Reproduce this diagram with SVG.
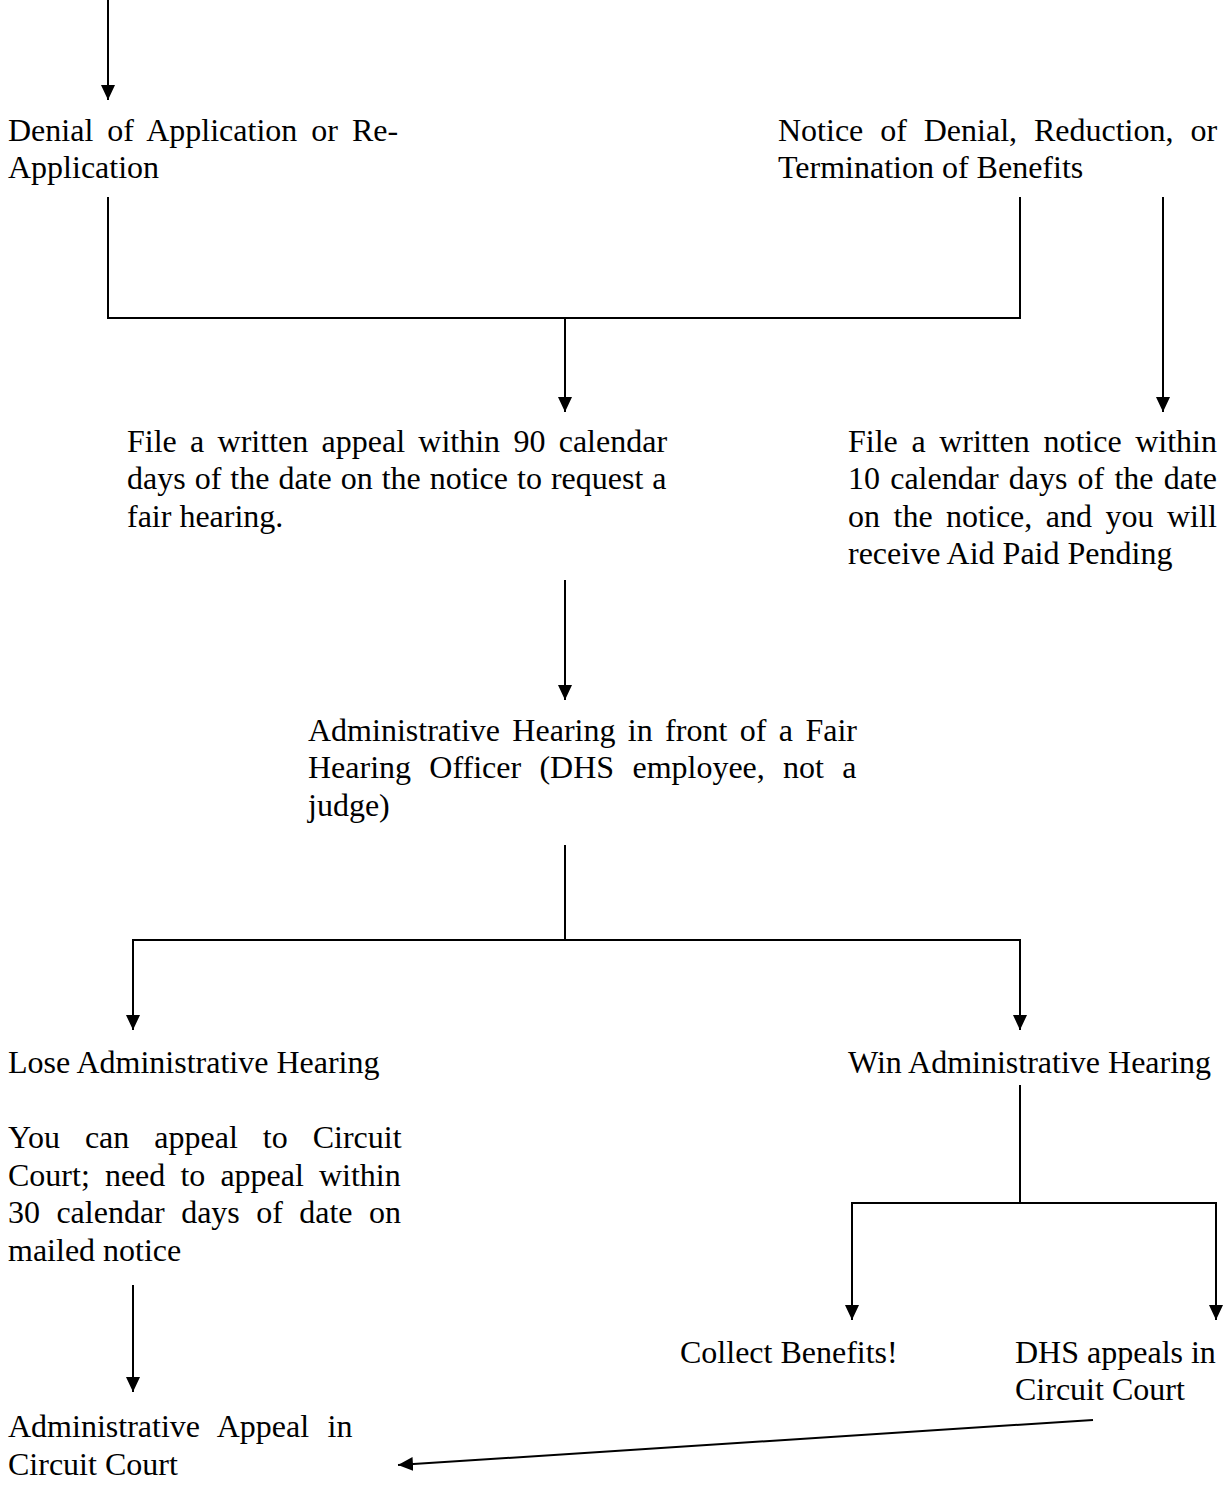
<svg xmlns="http://www.w3.org/2000/svg" width="1231" height="1501" viewBox="0 0 1231 1501">
<style>
text{font-family:"Liberation Serif","Times New Roman",serif;font-size:32px;fill:#000}
.c{fill:none;stroke:#000;stroke-width:2}
</style>
<defs>
<marker id="ah" markerUnits="userSpaceOnUse" markerWidth="16" markerHeight="14" refX="15" refY="7" orient="auto">
<path d="M0,0 L15,7 L0,14 z" fill="#000"/>
</marker>
</defs>
<rect width="1231" height="1501" fill="#fff"/>
<g id="connectors">
<path class="c" d="M108,0 V100" marker-end="url(#ah)"/>
<path class="c" d="M108,197 V318 H1020 V197"/>
<path class="c" d="M565,318 V412" marker-end="url(#ah)"/>
<path class="c" d="M1163,197 V412" marker-end="url(#ah)"/>
<path class="c" d="M565,580 V700" marker-end="url(#ah)"/>
<path class="c" d="M565,845 V940"/>
<path class="c" d="M133,1030 V940 H1020 V1030" marker-end="url(#ah)"/>
<path class="c" d="M133,940 V1030" marker-end="url(#ah)"/>
<path class="c" d="M1020,1085 V1203"/>
<path class="c" d="M852,1320 V1203 H1216 V1320" marker-end="url(#ah)"/>
<path class="c" d="M852,1203 V1320" marker-end="url(#ah)"/>
<path class="c" d="M133,1285 V1392" marker-end="url(#ah)"/>
<path class="c" d="M1093,1420 L398,1465" marker-end="url(#ah)"/>
</g>
<g id="denial-application">
<text x="8" y="141" word-spacing="6">Denial of Application or Re-</text>
<text x="8" y="178">Application</text>
</g>
<g id="notice-denial">
<text x="778" y="141" word-spacing="8.9">Notice of Denial, Reduction, or</text>
<text x="778" y="178">Termination of Benefits</text>
</g>
<g id="file-appeal">
<text x="127" y="452" word-spacing="5.3">File a written appeal within 90 calendar</text>
<text x="127" y="489" word-spacing="1">days of the date on the notice to request a</text>
<text x="127" y="527">fair hearing.</text>
</g>
<g id="file-notice">
<text x="848" y="452" word-spacing="5.6">File a written notice within</text>
<text x="848" y="489" word-spacing="2.2">10 calendar days of the date</text>
<text x="848" y="527" word-spacing="5.5">on the notice, and you will</text>
<text x="848" y="564">receive Aid Paid Pending</text>
</g>
<g id="admin-hearing">
<text x="308" y="741" word-spacing="4.4">Administrative Hearing in front of a Fair</text>
<text x="308" y="778" word-spacing="10.3">Hearing Officer (DHS employee, not a</text>
<text x="308" y="816">judge)</text>
</g>
<g id="lose-hearing">
<text x="8" y="1073">Lose Administrative Hearing</text>
<text x="8" y="1148" word-spacing="17">You can appeal to Circuit</text>
<text x="8" y="1186" word-spacing="7.1">Court; need to appeal within</text>
<text x="8" y="1223" word-spacing="8.4">30 calendar days of date on</text>
<text x="8" y="1261">mailed notice</text>
</g>
<g id="win-hearing">
<text x="848" y="1073">Win Administrative Hearing</text>
</g>
<g id="collect-benefits">
<text x="680" y="1363">Collect Benefits!</text>
</g>
<g id="dhs-appeals">
<text x="1015" y="1363">DHS appeals in</text>
<text x="1015" y="1400">Circuit Court</text>
</g>
<g id="admin-appeal">
<text x="8" y="1437" word-spacing="10.5">Administrative Appeal in</text>
<text x="8" y="1475">Circuit Court</text>
</g>
</svg>
